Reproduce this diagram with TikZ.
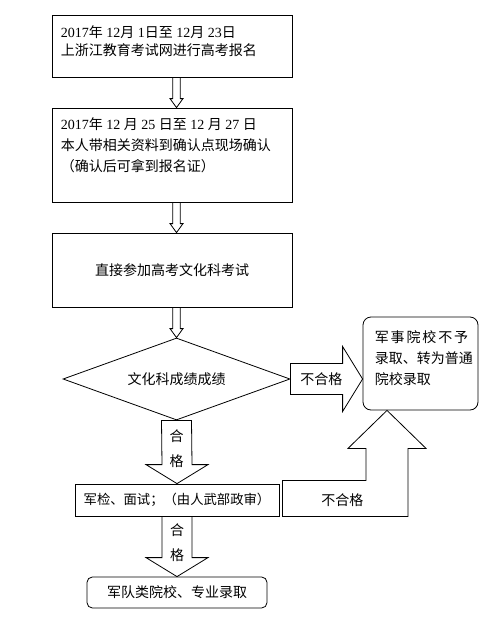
\documentclass[tikz,border=0pt]{standalone}
\usepackage{fontspec}
\setmainfont{Liberation Serif}
\newfontfamily\cjk{Noto Sans CJK SC}
\usetikzlibrary{positioning,calc,shapes.geometric}
\newcommand{\wuhao}{\fontsize{10.5pt}{15pt}\selectfont}
\tikzset{
  box/.style    = {draw,line width=0.6pt,inner sep=0pt,minimum width=180pt},
  txt/.style    = {inner sep=0pt,align=left,anchor=north west},
  hollow/.style = {draw,line width=0.6pt},
  lbl/.style    = {inner sep=0pt,align=center,font=\cjk\wuhao},
}
% thin hollow arrow, #1 start, #2 tip
\newcommand{\thinarrow}[2]{%
  \draw[hollow] ($(#1)+(-3.7,0)$) -- ($(#2)+(-3.7,-9)$) -- ($(#2)+(-6.5,-9)$)
    -- (#2) -- ($(#2)+(6.5,-9)$) -- ($(#2)+(3.7,-9)$) -- ($(#1)+(3.7,0)$);}
% wide block arrow pointing down, #1 start, #2 tip
\newcommand{\blockdown}[2]{%
  \draw[hollow] ($(#1)+(-15,0)$) -- ($(#2)+(-15,-19)$) -- ($(#2)+(-31,-19)$)
    -- (#2) -- ($(#2)+(31,-19)$) -- ($(#2)+(15,-19)$) -- ($(#1)+(15,0)$) -- cycle;}

\begin{document}
\begin{tikzpicture}[x=0.75pt,y=-0.75pt]
  \useasboundingbox (0,0) rectangle (491,643);

  % registration and confirmation
  \node[box,minimum height=46.5pt] (reg) at (172,46) {};
  \node[txt,font=\fontsize{10.5pt}{13.5pt}\selectfont] (regtxt)
        at ($(reg.north west)+(9,11)$)
        {2017{\cjk 年} 12{\cjk 月} 1{\cjk 日至} 12{\cjk 月} 23{\cjk 日}\\
         {\cjk 上浙江教育考试网进行高考报名}};
  \node[box,minimum height=70.5pt] (conf) at (172,155) {};
  \node[txt,font=\fontsize{10.5pt}{15.75pt}\selectfont] (conftxt)
        at ($(conf.north west)+(9,10)$)
        {2017{\cjk 年} 12 {\cjk 月} 25 {\cjk 日至} 12 {\cjk 月} 27 {\cjk 日}\\
         {\cjk 本人带相关资料到确认点现场确认}\\
         {\cjk （确认后可拿到报名证）}};
  \node[box,minimum height=55.5pt,font=\cjk\wuhao] (exam) at (172,270)
        {直接参加高考文化科考试};

  % score check
  \node[draw,line width=0.6pt,diamond,aspect=2.77,minimum width=170.25pt,
        minimum height=61.5pt,inner sep=0pt,font=\cjk\wuhao] (score)
        at (176.5,379) {文化科成绩成绩};

  % civil admission
  \node[box,rounded corners=6pt,minimum width=86.25pt,minimum height=69.75pt]
        (alt) at (420.5,363.5) {};
  \node[txt,font=\cjk\fontsize{10.5pt}{15.75pt}\selectfont] (alttxt)
        at ($(alt.north west)+(12,14)$)
        {\makebox[70pt][s]{军\hfill 事\hfill 院\hfill 校\hfill 不\hfill 予}\\
         录取、转为普通\\ 院校录取};

  % military check and admission
  \node[box,minimum width=153pt,minimum height=24pt,
        font=\cjk\fontsize{10pt}{14pt}\selectfont] (check) at (177,500)
        {军检、面试；（由人武部政审）};
  \node[box,rounded corners=4pt,minimum width=135pt,minimum height=23.25pt,
        font=\cjk\wuhao] (admit) at (177,592.5) {军队类院校、专业录取};

  % thin arrows
  \thinarrow{reg.south -| score.north}{conf.north -| score.north}
  \thinarrow{conf.south -| score.north}{exam.north -| score.north}
  \thinarrow{exam.south -| score.north}{score.north}

  % pass arrows
  \blockdown{score.south}{check.north}
  \node[lbl] (passa) at ($(score.south)+(0,28)$) {合\\[4pt]格};
  \blockdown{check.south}{admit.north}
  \node[lbl] (passb) at ($(check.south)+(0,26.5)$) {合\\[4pt]格};

  % fail arrows
  \coordinate (failtip) at (score.east -| alt.west);
  \draw[hollow] ($(score.east)+(0,-15.5)$) -- ($(failtip)+(-20,-15.5)$)
        -- ($(failtip)+(-20,-32.5)$) -- (failtip) -- ($(failtip)+(-20,32.5)$)
        -- ($(failtip)+(-20,15.5)$) -- ($(score.east)+(0,15.5)$) -- cycle;
  \node[lbl] (faila) at ($(score.east)+(31,0)$) {不合格};
  \coordinate (uptip) at ($(alt.south)+(-33.5,0)$);
  \draw[hollow] ($(check.south east)+(3,0)$) |- ($(uptip)+(-21,70)$)
        -- ($(uptip)+(-21,38)$) -- ($(uptip)+(-39,38)$) -- (uptip)
        -- ($(uptip)+(39,38)$) -- ($(uptip)+(21,38)$) -- ($(uptip)+(21,106)$)
        -- cycle;
  \node[lbl] (failb) at ($(check.east)+(63,0)$) {不合格};
\end{tikzpicture}
\end{document}
